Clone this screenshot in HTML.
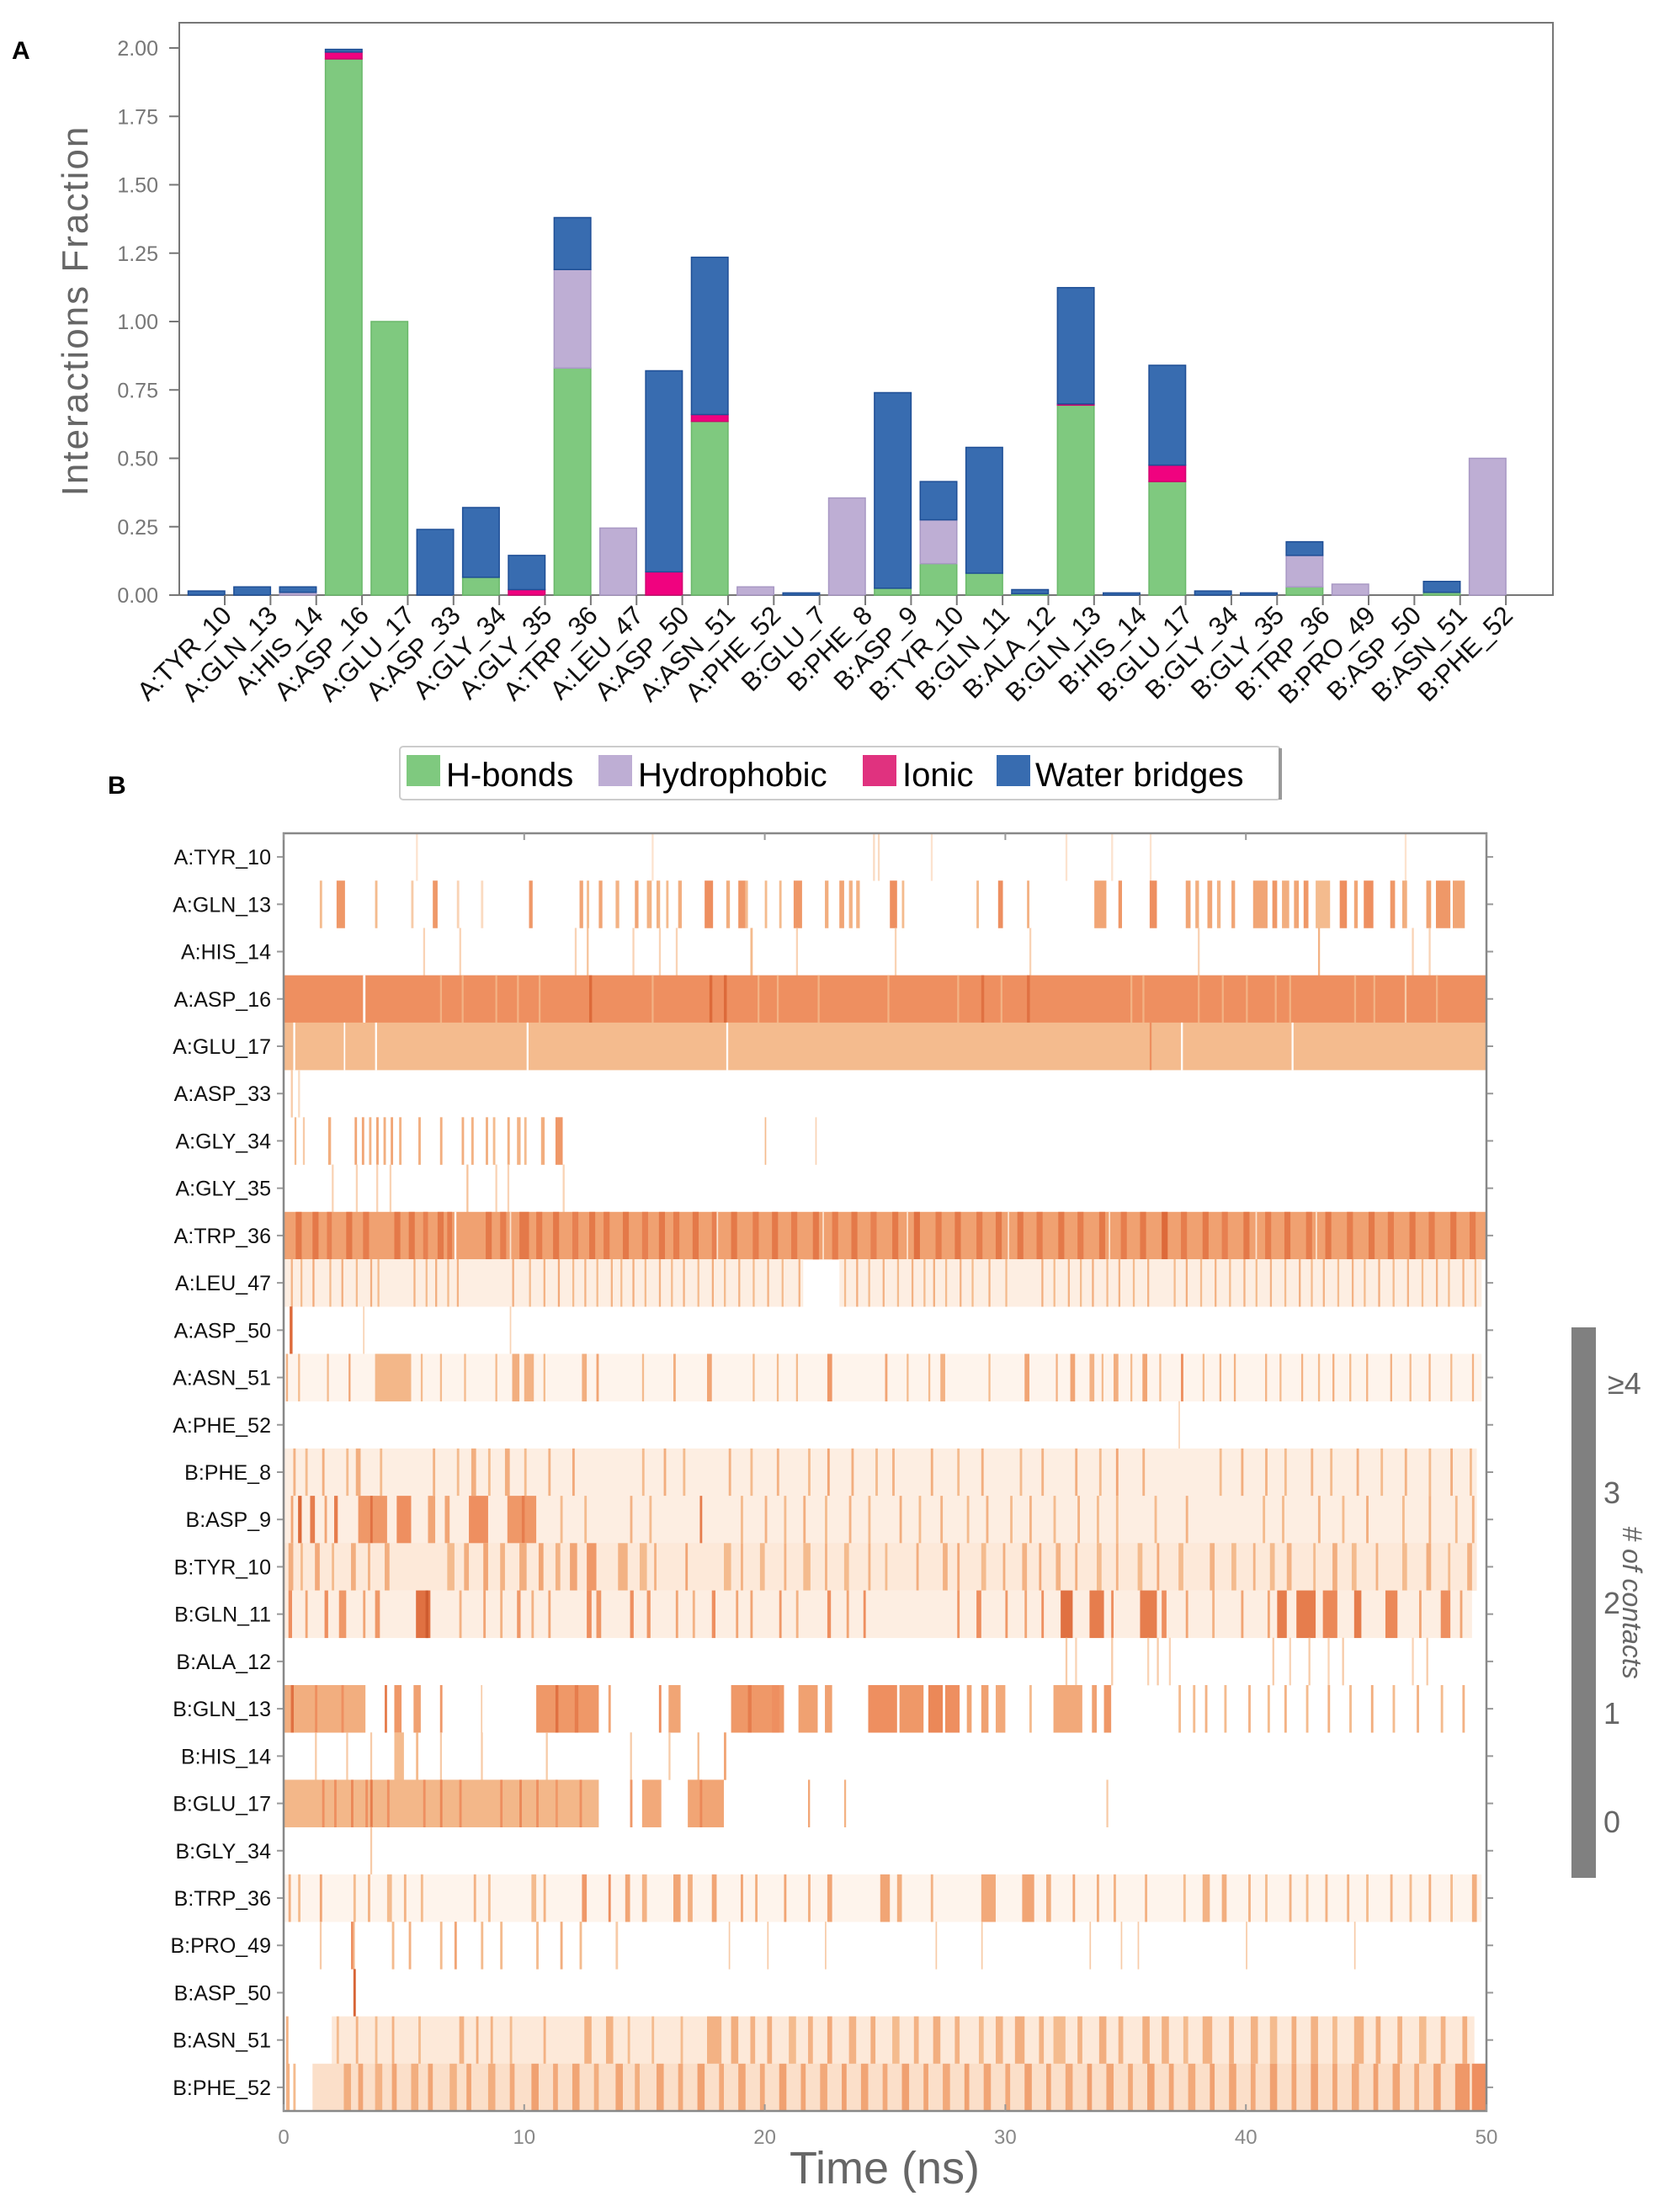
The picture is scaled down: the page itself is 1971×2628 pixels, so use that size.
<!DOCTYPE html>
<html><head><meta charset="utf-8"><style>
html,body{margin:0;padding:0;background:#fff}
svg{display:block}
text{font-family:"Liberation Sans","DejaVu Sans",sans-serif}
</style></head><body>
<svg id="fig" width="1971" height="2628" viewBox="0 0 1971 2628" xmlns="http://www.w3.org/2000/svg">
<text x="14" y="70" font-size="30" font-weight="bold">A</text>
<text x="128" y="943" font-size="30" font-weight="bold">B</text>
<g id="barchart"></g>
<g id="legend">
<rect x="475" y="887" width="1046" height="63" rx="4" fill="#fff" stroke="#ccc" stroke-width="2"/>
<rect x="1519" y="889" width="4" height="61" fill="#999"/>
<g><rect x="483" y="897" width="40" height="37" fill="#7fc97f"/><text x="530" y="934" font-size="40">H-bonds</text></g>
<g><rect x="711" y="897" width="40" height="37" fill="#beaed4"/><text x="758" y="934" font-size="40">Hydrophobic</text></g>
<g><rect x="1025" y="897" width="40" height="37" fill="#e0327f"/><text x="1072" y="934" font-size="40">Ionic</text></g>
<g><rect x="1184" y="897" width="40" height="37" fill="#386cb0"/><text x="1230" y="934" font-size="40">Water bridges</text></g>
</g>
<g id="heatmap"></g>
<g id="colorbar">
<rect x="1867" y="1577" width="29" height="654" fill="#808080"/>
<text x="1910" y="1656" font-size="36" fill="#666">≥4</text>
<text x="1905" y="1786" font-size="36" fill="#666">3</text>
<text x="1905" y="1917" font-size="36" fill="#666">2</text>
<text x="1905" y="2048" font-size="36" fill="#666">1</text>
<text x="1905" y="2177" font-size="36" fill="#666">0</text>
<text transform="translate(1928,1904) rotate(90)" text-anchor="middle" font-size="32" font-style="italic" fill="#666"># of contacts</text>
</g>
</svg>
<script>
const categories=["A:TYR_10","A:GLN_13","A:HIS_14","A:ASP_16","A:GLU_17","A:ASP_33","A:GLY_34","A:GLY_35","A:TRP_36","A:LEU_47","A:ASP_50","A:ASN_51","A:PHE_52","B:GLU_7","B:PHE_8","B:ASP_9","B:TYR_10","B:GLN_11","B:ALA_12","B:GLN_13","B:HIS_14","B:GLU_17","B:GLY_34","B:GLY_35","B:TRP_36","B:PRO_49","B:ASP_50","B:ASN_51","B:PHE_52"];
const hbonds=[0,0,0,1.96,1.0,0,0.065,0,0.83,0,0,0.635,0,0,0,0.025,0.115,0.08,0.005,0.695,0,0.415,0,0,0.03,0,0,0.01,0];
const hydrophobic=[0,0,0.01,0,0,0,0,0,0.36,0.245,0,0,0.03,0,0.355,0,0.16,0,0,0,0,0,0,0,0.115,0.04,0,0,0.5];
const ionic=[0,0,0,0.025,0,0,0,0.02,0,0,0.085,0.025,0,0,0,0,0,0,0,0.004,0,0.06,0,0,0,0,0,0,0];
const waterBridges=[0.015,0.03,0.02,0.01,0,0.24,0.255,0.125,0.19,0,0.735,0.575,0,0.008,0,0.715,0.14,0.46,0.015,0.425,0.008,0.365,0.015,0.008,0.05,0,0,0.04,0];
const yTicks=["0.00","0.25","0.50","0.75","1.00","1.25","1.50","1.75","2.00"];

const rowLabels=["A:TYR_10","A:GLN_13","A:HIS_14","A:ASP_16","A:GLU_17","A:ASP_33","A:GLY_34","A:GLY_35","A:TRP_36","A:LEU_47","A:ASP_50","A:ASN_51","A:PHE_52","B:PHE_8","B:ASP_9","B:TYR_10","B:GLN_11","B:ALA_12","B:GLN_13","B:HIS_14","B:GLU_17","B:GLY_34","B:TRP_36","B:PRO_49","B:ASP_50","B:ASN_51","B:PHE_52"];
const timeTicks=[0,10,20,30,40,50];
// segments: [start ns, width ns, contact level]
const rA_TYR_10=[[5.5,.08,.5],[15.3,.08,.5],[24.5,.08,.6],[24.7,.08,.6],[26.9,.08,.5],[32.5,.08,.5],[34.4,.08,.5],[36,.08,.5],[46.6,.08,.5]];
const rA_GLN_13=[[1.5,.1,1],[2.2,.35,1.8],[3.8,.1,1],[5.3,.1,.8],[6.2,.2,1.8],[7.2,.1,.7],[8.2,.1,.6],[10.2,.15,1.8],[12.3,.15,1.5],[12.6,.1,1],[13.1,.15,1.5],[13.8,.15,1.2],[14.6,.15,1.5],[15.1,.2,1.2],[15.5,.15,1.2],[15.9,.1,1],[16.4,.15,1.3],[17.5,.35,2],[18.4,.15,1.3],[18.9,.3,1.8],[19.2,.1,1],[20.0,.1,1],[20.6,.1,1],[21.2,.35,1.8],[22.5,.15,1.3],[23.1,.2,1.5],[23.5,.15,1.2],[23.8,.15,1.2],[25.2,.3,2],[25.7,.1,1],[28.8,.1,1],[29.7,.2,2],[30.9,.1,1.2],[33.7,.5,1.5],[34.7,.15,1.8],[36.0,.3,2],[37.5,.2,1.5],[37.9,.15,1.3],[38.4,.2,1.5],[38.8,.15,1.2],[39.4,.15,1.5],[40.3,.6,1.5],[41.1,.2,1.8],[41.5,.3,1.3],[42.0,.2,1.5],[42.4,.2,1.8],[42.9,.6,1],[43.9,.3,2],[44.5,.15,1.5],[44.9,.4,2],[46.0,.2,1.8],[46.5,.2,1.3],[47.5,.2,1.5],[47.9,.6,1.8],[48.6,.5,1.5]];
const rA_HIS_14=[[5.8,.08,.7],[7.3,.08,.7],[12.1,.08,.7],[12.6,.08,.9],[14.5,.08,.7],[15.6,.08,.7],[16.3,.08,.7],[19.4,.1,1],[21.3,.08,.7],[25.4,.08,.7],[31.0,.08,.7],[38.0,.08,.7],[43.0,.08,1.2],[46.9,.08,.7],[47.6,.08,.7]];
const rA_ASP_16=[[0,50,2],[3.3,.1,0],[6.5,.08,1.2],[7.4,.08,1.2],[8.8,.08,1.2],[9.7,.08,1.2],[10.6,.08,1.2],[12.7,.12,3],[15.3,.08,1.2],[17.7,.12,3],[18.3,.12,3],[19.7,.08,1.2],[20.5,.08,1.2],[22.2,.08,1.2],[25.1,.08,1.2],[28.0,.08,1.2],[29.0,.12,2.8],[29.8,.08,1.2],[30.9,.12,2.8],[35.2,.08,1.2],[35.7,.08,1.2],[38.0,.08,1.2],[39.0,.08,1.2],[40.0,.08,1.2],[41.2,.08,1.2],[41.8,.08,1.2],[44.5,.08,1.2],[45.3,.08,1.2],[46.6,.08,.8],[47.9,.08,1.2]];
const rA_GLU_17=[[0,50,1],[0.4,.08,0],[2.5,.06,0],[3.8,.08,0],[10.1,.08,0],[18.4,.08,0],[36.0,.08,2],[37.3,.08,0],[41.9,.08,0]];
const rA_ASP_33=[[0.3,.08,.8],[0.6,.08,.6]];
const rA_GLY_34=[[0.45,.08,1],[0.8,.08,.8],[1.85,.12,1.3],[2.95,.1,1.5],[3.25,.1,1.5],[3.55,.1,1.2],[3.85,.1,1.5],[4.15,.1,1.3],[4.45,.1,1.5],[4.8,.1,1.2],[5.6,.1,1.3],[6.5,.1,1.3],[7.4,.1,1.3],[7.8,.1,1.2],[8.4,.1,1.3],[8.7,.1,1],[9.3,.1,1.3],[9.7,.15,1.2],[10.0,.1,1],[10.7,.15,1.3],[11.3,.3,1.8],[20.0,.06,1],[22.1,.06,.7]];
const rA_GLY_35=[[2.0,.08,.7],[3.0,.08,.7],[3.85,.08,.7],[4.4,.08,.7],[7.6,.08,.9],[8.8,.08,.7],[9.3,.08,.7],[11.6,.08,.7]];
const rA_TRP_36=[[0,50,1.6],[0.5,.25,2.6],[1.2,.25,2.6],[1.8,.2,2.4],[2.6,.25,2.6],[3.3,.25,2.5],[4.6,.25,2.6],[5.2,.25,2.6],[5.8,.2,2.4],[6.4,.25,2.6],[6.8,.2,2.5],[7.1,.08,0],[8.4,.25,2.6],[9.0,.25,2.5],[9.4,.06,.5],[9.8,.4,2.6],[10.5,.25,2.5],[11.2,.25,2.6],[12.0,.25,2.4],[12.7,.25,2.6],[13.3,.25,2.5],[14.1,.25,2.6],[14.9,.25,2.4],[15.6,.25,2.6],[16.2,.25,2.5],[17.0,.25,2.6],[17.8,.2,2.4],[18.0,.06,.5],[18.6,.25,2.6],[19.5,.25,2.5],[20.3,.25,2.6],[21.1,.25,2.5],[22.0,.25,2.6],[22.4,.06,.5],[22.8,.25,2.5],[23.6,.25,2.6],[24.4,.25,2.4],[25.3,.25,2.6],[25.9,.06,.5],[26.2,.25,2.8],[27.1,.25,2.5],[27.9,.25,2.6],[28.8,.25,2.5],[29.6,.25,2.6],[30.1,.06,.5],[30.5,.25,2.6],[31.3,.25,2.5],[32.2,.25,2.6],[33.0,.25,2.5],[33.9,.25,2.6],[34.3,.06,.5],[34.8,.25,2.5],[35.6,.25,2.6],[36.5,.25,3],[37.3,.25,2.5],[38.2,.25,2.6],[39.0,.25,2.4],[39.9,.25,2.6],[40.4,.06,.5],[40.8,.25,2.5],[41.6,.25,2.6],[42.5,.25,2.5],[42.9,.06,.5],[43.3,.25,2.6],[44.2,.25,2.5],[45.1,.25,2.6],[45.9,.25,2.5],[46.8,.25,2.6],[47.6,.25,2.5],[48.5,.25,2.6],[49.3,.25,2.5]];
const rA_LEU_47=[[0,21.6,.3],[23.1,26.7,.3],[0.3,.08,1.2],[0.7,.08,1],[1.2,.08,1.4],[1.9,.08,1],[2.4,.08,1.3],[3.0,.08,1],[3.6,.08,1.3],[3.9,.08,1],[5.4,.08,1.2],[5.9,.08,1],[6.3,.08,1.3],[6.8,.08,1],[7.2,.08,1.2],[9.5,.08,1.3],[10.2,.08,1],[10.8,.08,1.2],[11.4,.08,1.4],[12.0,.08,1],[12.5,.08,1.2],[13.0,.08,1],[13.6,.08,1.2],[14.0,.08,1],[14.5,.08,1.3],[15.0,.08,1],[15.6,.08,1.2],[16.1,.08,1],[16.6,.08,1.2],[17.2,.08,1],[17.8,.08,1.3],[18.3,.08,1],[18.9,.08,1.2],[19.5,.08,1],[20.1,.08,1.2],[20.7,.08,1],[21.4,.08,1.2],[23.3,.08,1],[23.8,.08,1.3],[24.3,.08,1],[24.9,.08,1.2],[25.5,.08,1],[26.1,.08,1.2],[26.6,.08,1],[27.0,.08,1.3],[27.5,.08,1],[28.1,.08,1.2],[28.6,.08,1],[29.3,.08,1.2],[30.0,.08,1],[31.5,.08,1.3],[32.0,.08,1],[32.6,.08,1.2],[33.1,.08,1],[33.6,.08,1.3],[34.2,.08,1],[34.7,.08,1.2],[35.3,.08,1],[35.9,.08,1.2],[37.0,.08,1],[37.5,.08,1.3],[38.1,.08,1],[38.7,.08,1.2],[39.3,.08,1],[39.9,.08,1.2],[40.4,.08,1],[41.0,.08,1.2],[41.6,.08,1],[42.2,.08,1.3],[42.7,.08,1],[43.2,.08,1.2],[43.8,.08,1],[44.4,.08,1.2],[44.9,.08,1],[45.5,.08,1.3],[46.1,.08,1],[46.7,.08,1.2],[47.3,.08,1],[47.9,.08,1.2],[48.4,.08,1],[49.0,.08,1.2],[49.5,.08,1]];
const rA_ASP_50=[[0.25,.12,3],[3.3,.06,.7],[9.4,.06,.7]];
const rA_ASN_51=[[0,49.8,.2],[0.1,.08,1.2],[0.6,.08,1],[1.8,.08,1],[2.7,.08,1.5],[3.8,1.5,1.1],[5.7,.08,1],[6.5,.08,1],[7.5,.08,1],[8.8,.08,1],[9.5,.3,1.3],[10.0,.4,1.2],[10.8,.08,1],[12.4,.2,1.3],[13.0,.1,1.5],[14.9,.08,1],[16.2,.1,1.3],[17.6,.2,1.5],[19.5,.08,1],[20.5,.08,1],[21.3,.08,1],[22.6,.2,1.8],[25.0,.1,1.5],[25.9,.08,1],[26.8,.08,1],[27.3,.2,1.2],[29.3,.08,1],[30.8,.2,1.5],[32.1,.08,1.2],[32.7,.2,1.5],[33.5,.2,1.2],[34.0,.08,1],[34.5,.2,1.3],[35.2,.08,1],[35.7,.2,1.5],[36.4,.08,1],[37.3,.1,2],[38.2,.08,1],[38.9,.08,1.2],[39.5,.08,1.2],[40.8,.08,1.2],[41.4,.08,1],[42.3,.08,1.2],[43.0,.08,1],[43.6,.08,1.3],[44.3,.08,1],[45.0,.08,1.2],[46.0,.08,1.2],[46.8,.08,1],[47.6,.08,1.2],[48.5,.08,1],[49.4,.08,1.2]];
const rA_PHE_52=[[37.2,.06,.7]];
const rB_PHE_8=[[0,49.6,.3],[0.4,.1,1.2],[0.9,.1,1],[1.6,.1,1.3],[2.6,.1,1],[3.0,.2,1.3],[4.0,.1,1],[6.2,.1,1.2],[7.2,.1,1],[7.8,.2,1.3],[8.5,.1,1],[9.2,.2,1.3],[10.0,.1,1],[11.0,.1,1.2],[12.0,.1,1.4],[14.9,.1,1],[15.8,.1,1.3],[16.6,.1,1],[18.5,.1,1.2],[19.4,.1,1],[20.5,.1,1.2],[21.8,.1,1],[22.6,.1,1.5],[23.6,.1,1.3],[24.6,.1,1],[25.3,.1,1.2],[26.9,.1,1.3],[28.0,.1,1],[29.0,.1,1.3],[30.6,.1,1],[31.5,.1,1.2],[32.9,.1,1.3],[33.9,.1,1],[34.6,.1,1.5],[35.7,.1,1.2],[38.9,.1,1],[39.8,.1,1.3],[40.8,.1,1.2],[41.6,.1,1],[42.7,.1,1.2],[43.5,.1,1],[44.6,.1,1.3],[45.6,.1,1],[46.6,.1,1.2],[47.6,.1,1],[48.5,.1,1.3],[49.3,.1,1]];
const rB_ASP_9=[[0,49.6,.3],[0.3,.1,1.5],[0.6,.15,3],[1.1,.2,2.5],[1.7,.1,1.5],[2.1,.15,2.5],[3.1,1.2,1.8],[3.6,.1,2.8],[4.7,.6,2],[6.0,.3,1.5],[6.7,.2,1.5],[7.7,.8,2],[9.3,1.2,1.8],[9.9,.12,2.5],[11.5,.1,1],[12.5,.1,1],[14.4,.1,1.2],[15.2,.1,1],[17.3,.1,2.5],[19.0,.1,1],[20.0,.1,1.2],[20.8,.1,1],[21.6,.1,1.3],[22.5,.1,1],[23.5,.1,1.2],[24.3,.1,1],[25.6,.1,1.3],[26.4,.1,1],[27.3,.1,1.2],[28.4,.1,1],[29.2,.1,1.2],[30.2,.1,1],[31.0,.1,1.2],[32.0,.1,1],[33.0,.1,1.2],[33.8,.1,1],[34.6,.1,1],[36.2,.1,1],[37.5,.1,1.2],[40.7,.1,1],[41.5,.1,1],[43.0,.1,1.2],[44.0,.1,1],[45.0,.1,1.3],[46.5,.1,1],[47.6,.1,1.2],[48.7,.1,1],[49.4,.1,1.2]];
const rB_TYR_10=[[0,49.6,.4],[0.2,.2,1.3],[0.7,.1,1],[1.3,.2,1.4],[2.0,.1,1],[2.8,.2,1.3],[3.5,.1,1.2],[4.2,.2,1.3],[6.8,.3,1],[7.5,.2,1.3],[8.3,.2,1.5],[9.0,.2,1.2],[9.8,.3,1.3],[10.6,.2,1.5],[11.3,.2,1.2],[11.9,.3,1.5],[12.6,.4,1.8],[13.9,.4,1.2],[14.8,.3,1],[15.4,.1,1.2],[16.7,.1,1.5],[18.3,.3,1],[19.0,.1,1.2],[19.8,.2,1],[20.8,.1,1.2],[21.6,.3,1],[22.5,.1,1.2],[23.3,.2,1],[24.3,.1,1.2],[25.0,.1,1],[26.3,.1,1.3],[27.4,.2,1.2],[28.0,.1,1.4],[29.0,.2,1],[29.9,.1,1.3],[30.7,.2,1.2],[31.4,.1,1.4],[32.1,.2,1.2],[32.9,.1,1.3],[33.8,.2,1],[34.6,.1,1.2],[35.5,.2,1],[36.3,.1,1.4],[37.2,.2,1],[38.5,.2,1.2],[39.4,.2,1],[40.3,.1,1.2],[41.0,.2,1],[41.7,.2,1.2],[42.8,.1,1],[43.6,.2,1.3],[44.4,.2,1],[45.4,.1,1.2],[46.5,.2,1],[47.5,.2,1.3],[48.4,.1,1],[49.2,.2,1.2]];
const rB_GLN_11=[[0,49.4,.3],[0.2,.15,2],[0.9,.1,1.5],[1.7,.15,2],[2.3,.3,1.8],[3.3,.1,1.5],[3.8,.2,1.8],[5.5,.6,2.8],[5.9,.12,3.5],[7.3,.1,1.2],[8.3,.1,1.5],[9.0,.1,1.2],[9.7,.15,1.8],[10.3,.1,1.2],[11.0,.1,1.5],[12.6,.2,2],[13.0,.2,1.8],[14.4,.15,2],[15.1,.15,1.8],[16.3,.1,1.5],[17.0,.1,1.2],[17.8,.15,2],[18.8,.1,1.5],[19.4,.1,1.5],[20.6,.1,1.8],[21.3,.1,1.2],[22.6,.15,2],[23.4,.1,1.5],[24.1,.1,2],[28.0,.1,1.8],[28.8,.2,2],[30.0,.1,1.8],[30.8,.1,1.5],[31.5,.1,2],[32.3,.5,2.8],[33.5,.6,2.5],[34.4,.1,2],[35.6,.7,2.5],[36.5,.2,2],[37.5,.1,1.5],[38.6,.1,1.2],[39.8,.1,1.5],[40.9,.1,1.5],[41.3,.4,2.5],[42.1,.8,2.5],[43.2,.6,2.2],[44.5,.3,2.5],[45.8,.5,2.2],[47.2,.1,1.5],[48.1,.4,2],[48.9,.1,1.5]];
const rB_ALA_12=[[32.5,.08,.8],[32.9,.08,.7],[34.4,.08,.8],[35.9,.08,.7],[36.3,.08,.8],[36.8,.08,.7],[41.1,.08,.8],[41.8,.08,.7],[42.6,.08,.8],[43.4,.08,.7],[44.0,.08,.8],[46.9,.08,.7],[47.5,.08,.8]];
const rB_GLN_13=[[0,3.4,1.3],[0.3,.12,2.8],[1.3,.1,2],[2.4,.1,2],[4.2,.1,2.5],[4.6,.3,1.8],[5.4,.3,1.6],[6.5,.1,1.8],[8.2,.06,.8],[10.5,2.6,1.8],[11.3,.12,2.8],[12.1,.15,2.5],[13.5,.1,1.5],[15.6,.1,2],[16.0,.5,1.5],[18.6,2.2,1.8],[19.3,.15,2.5],[20.3,.3,2],[21.4,.8,1.6],[22.5,.3,1.6],[24.3,1.2,2],[25.6,1,1.8],[26.8,.6,2.2],[27.5,.6,2],[28.4,.2,1.5],[29.0,.3,1.6],[29.6,.4,1.4],[31.0,.1,1],[32.0,1.2,1.4],[33.6,.2,1.6],[34.1,.3,1.8],[37.2,.1,1],[37.8,.1,1],[38.3,.1,1.2],[39.1,.1,1],[40.1,.1,1.2],[40.9,.1,1],[41.6,.1,1.2],[42.5,.1,1],[43.4,.1,1.2],[44.3,.1,1],[45.2,.1,1.3],[46.1,.1,1],[47.1,.1,1.2],[48.1,.1,1],[49.0,.1,1.2]];
const rB_HIS_14=[[1.3,.08,.8],[2.6,.08,.8],[3.6,.08,.8],[4.6,.4,1],[5.5,.1,1],[6.5,.08,.8],[8.2,.08,.8],[10.9,.08,.8],[14.4,.08,.8],[16.0,.08,.8],[17.2,.08,1],[18.3,.1,1.5]];
const rB_GLU_17=[[0,13.1,1.1],[1.6,.1,2],[2.1,.1,2],[2.8,.1,2.2],[3.4,.1,2],[3.6,.1,2.5],[4.3,.1,2],[5.8,.1,2],[6.5,.1,2.2],[7.3,.1,2],[9.0,.1,2],[9.8,.1,2.2],[10.5,.1,2],[11.3,.1,1.8],[12.3,.1,2],[14.4,.1,1.8],[14.9,.8,1.4],[16.8,1.5,1.5],[17.3,.1,2.2],[21.8,.08,1.5],[23.3,.08,1.2],[34.2,.08,.8]];
const rB_GLY_34=[[3.6,.08,.8]];
const rB_TRP_36=[[0,49.8,.2],[0.2,.1,1.3],[0.6,.1,1],[1.5,.1,1.5],[2.9,.1,1],[3.5,.1,1.2],[4.3,.2,1],[5.0,.1,1.2],[5.7,.1,1],[7.9,.1,1.2],[8.5,.1,1],[10.3,.2,1],[10.8,.1,1.2],[12.4,.2,1.8],[13.5,.1,2],[14.2,.2,1.5],[14.9,.2,1.2],[16.2,.3,1.5],[16.8,.2,1.3],[17.8,.2,1.5],[19.0,.1,1.5],[19.6,.1,1.3],[20.8,.1,1.5],[21.8,.1,1.3],[22.6,.2,1.5],[24.8,.4,1.5],[25.5,.2,1.3],[26.9,.1,1.2],[29.0,.6,1.4],[30.7,.5,1.5],[31.7,.2,1.3],[32.8,.1,1.5],[33.8,.1,1.3],[34.5,.1,1.2],[35.8,.1,1.2],[37.4,.1,1],[38.2,.3,1.2],[39.0,.2,1.3],[40.1,.1,1.2],[40.8,.1,1],[41.8,.1,1.2],[42.5,.1,1],[43.3,.1,1.2],[44.2,.1,1.2],[45.0,.1,1],[46.0,.1,1.2],[46.8,.1,1],[47.6,.1,1.3],[48.5,.1,1],[49.4,.2,1.3]];
const rB_PRO_49=[[1.5,.08,.8],[2.8,.1,2],[2.9,.06,1],[4.5,.1,1],[5.2,.1,1.2],[6.5,.1,1],[7.1,.1,1.5],[8.2,.1,1],[9.0,.1,1],[10.5,.1,1],[11.5,.1,1.3],[12.3,.1,1],[13.8,.1,.8],[18.5,.06,.8],[20.1,.06,.8],[22.5,.06,.8],[27.1,.06,.8],[29.0,.06,.8],[33.5,.06,.8],[34.8,.06,.8],[35.5,.06,.8],[40.0,.06,.8],[44.5,.06,.8]];
const rB_ASP_50=[[2.9,.1,3.2]];
const rB_ASN_51=[[2,47.5,.4],[0.1,.1,1.2],[2.2,.1,1],[3.0,.1,1.2],[3.8,.1,1],[4.5,.1,1.2],[5.6,.1,1],[7.3,.2,1.2],[8.0,.1,1.3],[8.6,.1,1.2],[9.4,.1,1],[10.8,.1,1.2],[12.5,.3,1.2],[13.4,.3,1.2],[14.3,.1,1],[15.3,.1,1],[16.5,.1,1],[17.6,.6,1.2],[18.6,.3,1.3],[19.4,.2,1.2],[20.1,.2,1.3],[21.0,.3,1],[21.8,.2,1.2],[22.6,.2,1.4],[23.5,.3,1.2],[24.4,.2,1.3],[25.3,.3,1],[26.2,.2,1.2],[27.0,.3,1.3],[27.9,.2,1.2],[28.9,.2,1],[29.6,.3,1.2],[30.4,.4,1.3],[31.4,.2,1.2],[32.0,.5,1],[33.0,.2,1.2],[33.9,.3,1.3],[34.7,.2,1.2],[35.7,.3,1.3],[36.5,.3,1.2],[37.4,.2,1],[38.2,.4,1.2],[39.3,.2,1.3],[40.2,.3,1.2],[41.0,.3,1],[41.9,.2,1.3],[42.7,.3,1.2],[43.6,.2,1],[44.5,.4,1.2],[45.4,.2,1.3],[46.3,.2,1.2],[47.2,.3,1],[48.1,.2,1.2],[49.0,.2,1.3]];
const rB_PHE_52=[[1.2,48.8,.55],[0.1,.15,1.2],[0.4,.1,1],[2.5,.3,1.3],[3.1,.2,1.5],[3.8,.3,1.2],[4.5,.2,1.5],[5.3,.3,1.3],[6.0,.2,1.5],[6.9,.3,1.2],[7.6,.2,1.5],[8.5,.3,1.3],[9.4,.2,1.4],[10.3,.3,1.6],[11.2,.2,1.4],[12.0,.3,1.5],[12.9,.2,1.3],[13.8,.3,1.5],[14.6,.2,1.3],[15.5,.3,1.5],[16.4,.2,1.4],[17.2,.3,1.6],[18.1,.2,1.4],[18.9,.3,1.5],[19.8,.2,1.4],[20.6,.3,1.6],[21.5,.2,1.5],[22.3,.3,1.4],[23.2,.2,1.6],[24.0,.3,1.5],[24.9,.2,1.4],[25.7,.3,1.6],[26.6,.2,1.5],[27.4,.3,1.4],[28.3,.2,1.6],[29.1,.3,1.5],[30.0,.2,1.4],[30.8,.3,1.6],[31.7,.2,1.5],[32.5,.3,1.4],[33.4,.2,1.6],[34.2,.3,1.5],[35.1,.2,1.4],[35.9,.3,1.6],[36.8,.2,1.5],[37.6,.3,1.4],[38.5,.2,1.6],[39.3,.3,1.5],[40.2,.2,1.4],[41.0,.3,1.6],[41.9,.2,1.5],[42.7,.3,1.6],[43.6,.2,1.5],[44.4,.3,1.4],[45.3,.2,1.6],[46.1,.3,1.5],[47.0,.2,1.4],[47.8,.3,1.6],[48.7,.6,1.8],[49.4,.6,2]];
const rowSegments=[rA_TYR_10,rA_GLN_13,rA_HIS_14,rA_ASP_16,rA_GLU_17,rA_ASP_33,rA_GLY_34,rA_GLY_35,rA_TRP_36,rA_LEU_47,rA_ASP_50,rA_ASN_51,rA_PHE_52,rB_PHE_8,rB_ASP_9,rB_TYR_10,rB_GLN_11,rB_ALA_12,rB_GLN_13,rB_HIS_14,rB_GLU_17,rB_GLY_34,rB_TRP_36,rB_PRO_49,rB_ASP_50,rB_ASN_51,rB_PHE_52];

const NS='http://www.w3.org/2000/svg';
function mk(tag,attrs,parent){const e=document.createElementNS(NS,tag);for(const k in attrs)e.setAttribute(k,attrs[k]);parent.appendChild(e);return e;}

// ---------- bar chart ----------
const bc=document.getElementById('barchart');
const AX={l:213,r:1845,t:27,b:707};
const yScale=v=>AX.b-v*325;
const firstTick=267,tickStep=54.36,barW=43.5;
const xTick=i=>firstTick+i*tickStep;
let e=mk('rect',{x:AX.l,y:AX.t,width:AX.r-AX.l,height:AX.b-AX.t,fill:'#fff',stroke:'#777','stroke-width':2},bc);


yTicks.forEach((lab,i)=>{const v=parseFloat(lab);const y=yScale(v);
  let t=mk('line',{x1:AX.l-12,x2:AX.l,y1:y,y2:y,stroke:'#777','stroke-width':2},bc);
  
  
  let tx=mk('text',{x:188,y:y+9,'text-anchor':'end','font-size':25,fill:'#777'},bc);tx.textContent=lab;
  
  
});
e=mk('text',{transform:'translate(104,369) rotate(-90)','text-anchor':'middle','font-size':44,fill:'#666','letter-spacing':'2'},bc);
e.textContent='Interactions Fraction';


const series=[[hbonds,'#7fc97f','#6ab86a'],[hydrophobic,'#beaed4','#a898c4'],[ionic,'#f0027f','#d0026f'],[waterBridges,'#386cb0','#1f4f96']];
const snames=['hbonds','hydrophobic','ionic','water-bridges'];
categories.forEach((c,i)=>{
  const xt=xTick(i);let base=0;
  series.forEach((s,k)=>{const v=s[0][i];if(v<=0)return;
    const y1=yScale(base+v),y0=yScale(base);
    let r=mk('rect',{x:xt-barW,y:y1,width:barW,height:Math.max(1.5,y0-y1),fill:s[1],stroke:s[2],'stroke-width':1.5},bc);
    
    
    base+=v;});
  let t=mk('line',{x1:xt,x2:xt,y1:AX.b,y2:AX.b+12,stroke:'#777','stroke-width':2},bc);
  
  
  let tx=mk('text',{transform:`translate(${xt+10},${AX.b+26}) rotate(-45)`,'text-anchor':'end','font-size':31,fill:'#111'},bc);
  tx.textContent=c;
  
  
});

// ---------- heatmap ----------
const hm=document.getElementById('heatmap');
const HX={l:337,r:1766,t:990,b:2508};
const rowH=(HX.b-HX.t)/rowLabels.length;
const xTime=t=>HX.l+t*(HX.r-HX.l)/50;
const stops=[[0,[255,255,255]],[0.5,[252,227,207]],[1,[244,187,142]],[1.5,[241,165,117]],[2,[238,143,96]],[3,[221,106,58]],[4,[190,76,36]]];
function col(l){if(l<=0)return 'rgb(255,255,255)';if(l>=4)return 'rgb(190,76,36)';
  for(let i=1;i<stops.length;i++){if(l<=stops[i][0]){const a=stops[i-1],b=stops[i];const f=(l-a[0])/(b[0]-a[0]);
    return 'rgb('+a[1].map((c,j)=>Math.round(c+(b[1][j]-c)*f)).join(',')+')';}}}
rowSegments.forEach((segs,ri)=>{
  const y=HX.t+ri*rowH;
  const g=mk('g',{},hm);
  
  
  segs.forEach(s=>{const x0=xTime(s[0]);const w=Math.max(1.6,s[1]*(HX.r-HX.l)/50);
    let r=mk('rect',{x:x0,y:y,width:Math.min(w,HX.r-x0),height:rowH+0.3,fill:col(s[2])},g);
    
    
  });
  const yc=y+rowH/2;
  let tx=mk('text',{x:322,y:yc+9,'text-anchor':'end','font-size':25,fill:'#111'},hm);tx.textContent=rowLabels[ri];
  
  
  let t1=mk('line',{x1:HX.l-8,x2:HX.l,y1:yc,y2:yc,stroke:'#999','stroke-width':2},hm);
  
  
  let t2=mk('line',{x1:HX.r,x2:HX.r+8,y1:yc,y2:yc,stroke:'#999','stroke-width':2},hm);
  
  
});
e=mk('rect',{x:HX.l,y:HX.t,width:HX.r-HX.l,height:HX.b-HX.t,fill:'none',stroke:'#888','stroke-width':2.5},hm);


timeTicks.forEach(t=>{const x=xTime(t);
  let a=mk('line',{x1:x,x2:x,y1:HX.b-8,y2:HX.b,stroke:'#999','stroke-width':2},hm);
  
  
  let b=mk('line',{x1:x,x2:x,y1:HX.t,y2:HX.t+8,stroke:'#999','stroke-width':2},hm);
  
  
  let tx=mk('text',{x:x,y:2547,'text-anchor':'middle','font-size':24,fill:'#888'},hm);tx.textContent=t;
  
  
});
e=mk('text',{x:1051,y:2594,'text-anchor':'middle','font-size':54,fill:'#666'},hm);
e.textContent='Time (ns)';


</script>
</body></html>
